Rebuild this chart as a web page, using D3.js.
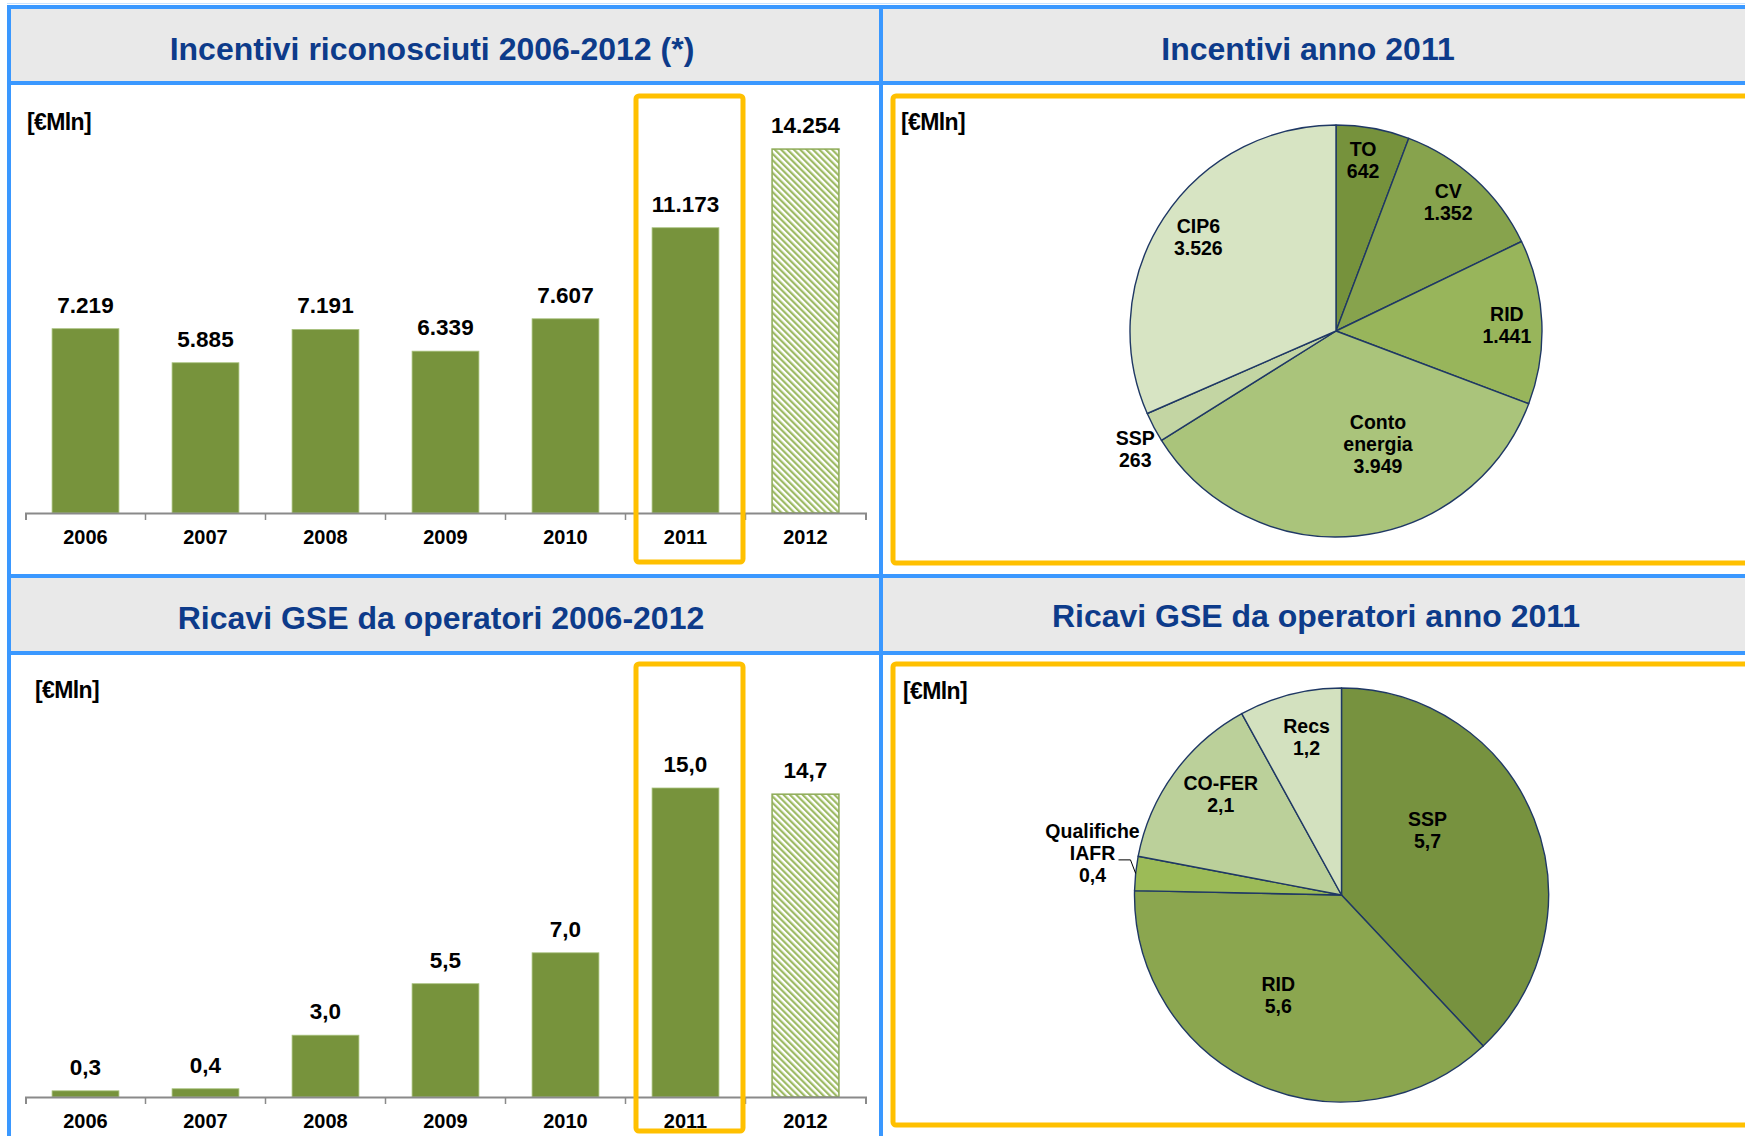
<!DOCTYPE html>
<html>
<head>
<meta charset="utf-8">
<script src="https://cdn.jsdelivr.net/npm/d3@7"></script>
<style>
  body { margin: 0; background: #fff; }
  svg { display: block; }
  text { font-family: "Liberation Sans", Arial, Helvetica, sans-serif; font-weight: bold; }
</style>
</head>
<body>
<svg id="chart" width="1745" height="1136"></svg>
<script>
// ---- data ----
const years = ["2006", "2007", "2008", "2009", "2010", "2011", "2012"];
const incentivi = [7219, 5885, 7191, 6339, 7607, 11173, 14254];
const ricavi = [0.3, 0.4, 3.0, 5.5, 7.0, 15.0, 14.7];

const incentiviVoci = ["TO", "CV", "RID", "Conto energia", "SSP", "CIP6"];
const incentivi2011 = [642, 1352, 1441, 3949, 263, 3526];

const ricaviVoci = ["SSP", "RID", "Qualifiche IAFR", "CO-FER", "Recs"];
const ricavi2011 = [5.7, 5.6, 0.4, 2.1, 1.2];

const titles = ["Incentivi riconosciuti 2006-2012 (*)", "Incentivi anno 2011",
                "Ricavi GSE da operatori 2006-2012", "Ricavi GSE da operatori anno 2011"];
const unitLabel = "[€Mln]";

// ---- styles ----
const BLUE = "#3A98FF";
const HEADER_GRAY = "#E9E9E9";
const TITLE_BLUE = "#0D3B8A";
const YELLOW = "#FFC000";
const BAR_GREEN = "#77933C";
const SLICE_LINE = "#1F3864";

const it = d3.formatLocale({ decimal: ",", thousands: ".", grouping: [3], currency: ["€", ""] });
const fmtInt = it.format(",.0f");
const fmtDec = it.format(".1f");

const svg = d3.select("#chart");

svg.append("rect").attr("width", 1745).attr("height", 1136).attr("fill", "#fff");

const defs = svg.append("defs");
const hatch = defs.append("pattern")
    .attr("id", "hatch")
    .attr("patternUnits", "userSpaceOnUse")
    .attr("width", 4.5)
    .attr("height", 4.5)
    .attr("patternTransform", "rotate(-45)");
hatch.append("rect").attr("width", 4.5).attr("height", 4.5).attr("fill", "#fff");
hatch.append("rect").attr("width", 2.2).attr("height", 4.5).attr("fill", "#9DBA64");

// ---- frame: headers and blue grid ----
const renderFrame = () => {
    svg.append("rect").attr("x", 11).attr("y", 9).attr("width", 1734).attr("height", 72).attr("fill", HEADER_GRAY);
    svg.append("rect").attr("x", 11).attr("y", 578).attr("width", 1734).attr("height", 73).attr("fill", HEADER_GRAY);

    const hLines = [7, 83, 576, 653];
    hLines.forEach(y => {
        svg.append("line").attr("x1", 7).attr("x2", 1745).attr("y1", y).attr("y2", y)
           .attr("stroke", BLUE).attr("stroke-width", 4);
    });
    const vLines = [9, 881];
    vLines.forEach(x => {
        svg.append("line").attr("x1", x).attr("x2", x).attr("y1", 5).attr("y2", 1136)
           .attr("stroke", BLUE).attr("stroke-width", 4);
    });
    svg.append("line").attr("x1", 7).attr("x2", 1745).attr("y1", 3.5).attr("y2", 3.5)
       .attr("stroke", "#C9E2FF").attr("stroke-width", 1);

    const titlePos = [[432, 60], [1308, 60], [441, 629], [1316, 627]];
    titles.forEach((t, i) => {
        svg.append("text")
           .attr("x", titlePos[i][0])
           .attr("y", titlePos[i][1])
           .attr("text-anchor", "middle")
           .attr("font-size", 32)
           .attr("fill", TITLE_BLUE)
           .text(t);
    });

    const unitPos = [[27, 130], [901, 130], [35, 698], [903, 699]];
    unitPos.forEach(p => {
        svg.append("text")
           .attr("x", p[0]).attr("y", p[1])
           .attr("font-size", 23)
           .attr("letter-spacing", -0.6)
           .attr("fill", "#000")
           .text(unitLabel);
    });
};

const highlight = (x, y, w, h) => {
    svg.append("rect")
       .attr("x", x).attr("y", y).attr("width", w).attr("height", h)
       .attr("rx", 3)
       .attr("fill", "none")
       .attr("stroke", YELLOW)
       .attr("stroke-width", 5);
};

// ---- bar chart ----
const renderBars = (cfg) => {
    const x = d3.scaleBand()
                .domain(years)
                .range([cfg.left, cfg.right])
                .paddingInner(0.443)
                .paddingOuter(0.2215);
    const y = d3.scaleLinear()
                .domain([0, cfg.max])
                .range([cfg.base, cfg.top]);
    const last = years.length - 1;
    const g = svg.append("g");

    g.selectAll("rect.bar")
     .data(cfg.values)
     .enter()
     .append("rect")
     .attr("class", "bar")
     .attr("x", (d, i) => x(years[i]))
     .attr("y", d => y(d))
     .attr("width", x.bandwidth())
     .attr("height", d => y(0) - y(d))
     .attr("fill", (d, i) => i === last ? "url(#hatch)" : BAR_GREEN)
     .attr("stroke", (d, i) => i === last ? "#8EAB58" : "#A9C27E")
     .attr("stroke-width", (d, i) => i === last ? 1.5 : 0.8);

    g.selectAll("text.val")
     .data(cfg.values)
     .enter()
     .append("text")
     .attr("class", "val")
     .attr("x", (d, i) => x(years[i]) + x.bandwidth() / 2)
     .attr("y", d => y(d) - 16)
     .attr("text-anchor", "middle")
     .attr("font-size", 22.5)
     .attr("fill", "#000")
     .text(d => cfg.format(d));

    const axis = d3.axisBottom(x).tickSizeInner(0).tickSizeOuter(7).tickPadding(17);
    const ax = g.append("g")
                .attr("transform", "translate(0," + cfg.base + ")")
                .call(axis);
    ax.select(".domain").attr("stroke", "#8A8A8A").attr("stroke-width", 2);
    ax.selectAll(".tick text")
      .attr("font-size", 20)
      .attr("font-family", "\"Liberation Sans\", Arial, sans-serif")
      .attr("font-weight", "bold")
      .attr("fill", "#000");
    d3.range(1, years.length).forEach(i => {
        const bx = cfg.left + i * x.step();
        ax.append("line").attr("x1", bx).attr("x2", bx).attr("y1", 0).attr("y2", 7)
          .attr("stroke", "#8A8A8A").attr("stroke-width", 1.5);
    });
};

// ---- pie chart ----
const renderPie = (cfg) => {
    const pie = d3.pie().sort(null).value(d => d);
    const slices = pie(cfg.values);
    const arc = d3.arc().innerRadius(0).outerRadius(cfg.r);
    const edge = d3.arc().innerRadius(cfg.r).outerRadius(cfg.r);
    const g = svg.append("g").attr("transform", "translate(" + cfg.cx + "," + cfg.cy + ")");

    g.selectAll("path")
     .data(slices)
     .enter()
     .append("path")
     .attr("d", arc)
     .attr("fill", (d, i) => cfg.colors[i])
     .attr("stroke", SLICE_LINE)
     .attr("stroke-width", 1.4)
     .attr("stroke-linejoin", "round");

    const lineH = 22;
    slices.forEach((s, i) => {
        const name = cfg.names[i];
        const spot = cfg.spots[name];
        const a = spot.a * Math.PI / 180;
        const px = Math.sin(a) * spot.k * cfg.r;
        const py = -Math.cos(a) * spot.k * cfg.r;
        const lines = name.split(" ").concat([cfg.format(cfg.values[i])]);
        const t = g.append("text")
                   .attr("text-anchor", "middle")
                   .attr("font-size", 19.5)
                   .attr("fill", "#000");
        lines.forEach((ln, j) => {
            t.append("tspan")
             .attr("x", px)
             .attr("y", py + (j - (lines.length - 1) / 2) * lineH + 7)
             .text(ln);
        });
        if (spot.leader) {
            const end = edge.centroid(s);
            const sx = px + 26, sy = py + 7;
            g.append("path")
             .attr("d", "M" + sx + "," + sy + " H" + (sx + 12) + " L" + end[0] + "," + end[1])
             .attr("fill", "none")
             .attr("stroke", "#000")
             .attr("stroke-width", 1);
        }
    });
};

renderFrame();

renderBars({ values: incentivi, left: 25.5, right: 865.5, base: 513, top: 104.5, max: 16000, format: fmtInt });
renderBars({ values: ricavi, left: 25.5, right: 865.5, base: 1097, top: 685, max: 20, format: fmtDec });

highlight(636, 96, 107, 466);
highlight(636, 664, 107, 467);
highlight(893, 96, 870, 467);
highlight(893, 664, 870, 461);

renderPie({
    names: incentiviVoci,
    values: incentivi2011,
    cx: 1336, cy: 331, r: 206,
    format: fmtInt,
    colors: ["#76923C", "#87A34D", "#98B55B", "#AAC47B", "#C3D5A3", "#D7E4C3"],
    spots: {
        "TO": { a: 9, k: 0.84 },
        "CV": { a: 41, k: 0.83 },
        "RID": { a: 88, k: 0.83 },
        "Conto energia": { a: 159.6, k: 0.585 },
        "SSP": { a: 239.6, k: 1.13 },
        "CIP6": { a: 304.4, k: 0.81 }
    }
});

renderPie({
    names: ricaviVoci,
    values: ricavi2011,
    cx: 1341.5, cy: 895, r: 207,
    format: fmtDec,
    colors: ["#77923F", "#8BA64F", "#9CBB57", "#BBD09A", "#D3E1BF"],
    spots: {
        "SSP": { a: 53.1, k: 0.52 },
        "RID": { a: 212.4, k: 0.57 },
        "Qualifiche IAFR": { a: 279.6, k: 1.22, leader: true },
        "CO-FER": { a: 309.9, k: 0.76 },
        "Recs": { a: 347.5, k: 0.78 }
    }
});
</script>
</body>
</html>
